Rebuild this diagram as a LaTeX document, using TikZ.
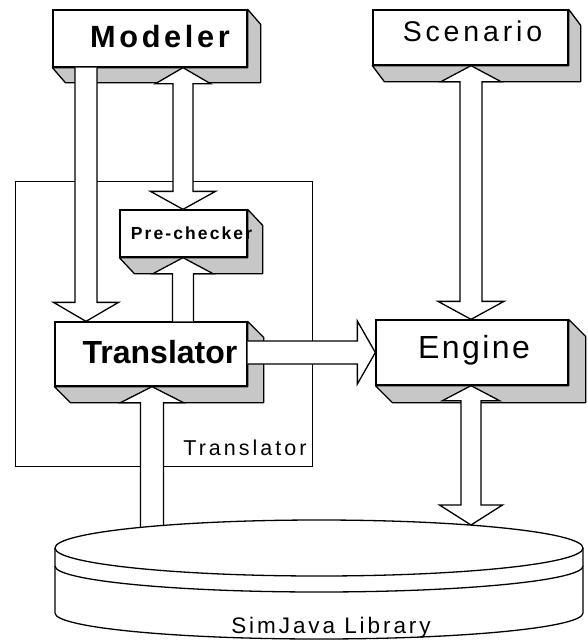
\documentclass[tikz,border=0pt]{standalone}
\usepackage{fontspec}
\setmainfont{Liberation Sans}
\usetikzlibrary{calc}
\tikzset{
  box/.style={draw, fill=white, line width=1.3pt, inner sep=0pt},
  side3d/.style={draw, fill=black!22, line width=1.3pt, line join=round},
  blockarrow/.style={draw, fill=white, line width=1.3pt, line join=miter},
  framebox/.style={draw, line width=1pt, inner sep=0pt, minimum width=297pt, minimum height=285pt},
  lbl/.style={anchor=base, inner sep=0pt},
  cyl/.style={draw, line width=1.3pt},
}
% side faces of a 3-D box: #1 node, #2 dx, #3 dy
\newcommand\sidefaces[3]{%
  \path[side3d] (#1.north east) -- ++(#2,#3) -- ($(#1.south east)+(#2,#3)$)
    -- ($(#1.south west)+(#2,#3)$) -- (#1.south west) -- (#1.south east) -- cycle;}
% block arrow pointing down: #1 tail, #2 tip, #3 shaft hw, #4 head hw, #5 head len
\newcommand\arrDown[5]{%
  \path[blockarrow] let \p1=(#1), \p2=(#2) in
    (\x2-#3,\y1) -- (\x2-#3,\y2+#5) -- (\x2-#4,\y2+#5) -- (\x2,\y2)
    -- (\x2+#4,\y2+#5) -- (\x2+#3,\y2+#5) -- (\x2+#3,\y1);}
% block arrow pointing up: #1 tail (below), #2 tip
\newcommand\arrUp[5]{%
  \path[blockarrow] let \p1=(#1), \p2=(#2) in
    (\x2-#3,\y1) -- (\x2-#3,\y2-#5) -- (\x2-#4,\y2-#5) -- (\x2,\y2)
    -- (\x2+#4,\y2-#5) -- (\x2+#3,\y2-#5) -- (\x2+#3,\y1);}
% double block arrow: #1 top tip, #2 bottom tip, #3 shaft hw,
% #4/#5 top head hw/len, #6/#7 bottom head hw/len
\newcommand\arrBoth[7]{%
  \path[blockarrow] let \p1=(#1), \p2=(#2) in
    (\x1-#3,\y1-#5) -- (\x1-#4,\y1-#5) -- (\x1,\y1) -- (\x1+#4,\y1-#5)
    -- (\x1+#3,\y1-#5) -- (\x1+#3,\y2+#7) -- (\x1+#6,\y2+#7) -- (\x1,\y2)
    -- (\x1-#6,\y2+#7) -- (\x1-#3,\y2+#7) -- cycle;}

\begin{document}
\begin{tikzpicture}[x=1pt,y=-1pt]
\useasboundingbox (0,0) rectangle (588,641);
\coordinate (cA) at (86,0);
\coordinate (cB) at (183,0);
\coordinate (cC) at (152,0);
\coordinate (cD) at (471,0);
\coordinate (libC) at (152,545);
\coordinate (libD) at (471,525);

% translator frame
\node[framebox] (tframe) at (163.5,323.5) {};

% boxes
\node[box, minimum width=194pt, minimum height=57pt] (modeler) at (150,38.5) {};
\node[box, minimum width=195pt, minimum height=55pt] (scenario) at (470.5,37.5) {};
\node[box, minimum width=127pt, minimum height=47pt] (prechecker) at (183.5,233.5) {};
\node[box, minimum width=192pt, minimum height=64pt] (translator) at (151,354) {};
\node[box, minimum width=192pt, minimum height=65pt] (engine) at (472,352.5) {};
\sidefaces{modeler}{13}{15}
\sidefaces{scenario}{12}{16}
\sidefaces{prechecker}{15}{16}
\sidefaces{translator}{16}{16}
\sidefaces{engine}{17}{17}

% arrows
\arrDown{modeler.south -| cA}{translator.north -| cA}{11pt}{32.5pt}{19pt}
\arrBoth{modeler.south -| cB}{prechecker.north -| cB}{10pt}{27.5pt}{16pt}{32.5pt}{18pt}
\arrUp{translator.north -| cB}{prechecker.south -| cB}{10.5pt}{30pt}{16pt}
\arrUp{libC}{translator.south -| cC}{11.5pt}{31.5pt}{16pt}
\arrBoth{scenario.south -| cD}{engine.north -| cD}{11pt}{30pt}{16pt}{33pt}{18pt}
\arrBoth{engine.south -| cD}{libD}{10pt}{28.5pt}{15pt}{31.5pt}{20pt}
\path[blockarrow] let \p1=(translator.east |- engine.west), \p2=(engine.west) in
  (\x1,\y2+11.5pt) -- (\x2-18pt,\y2+11.5pt) -- (\x2-18pt,\y2+31.5pt) -- (\x2,\y2)
  -- (\x2-18pt,\y2-31.5pt) -- (\x2-18pt,\y2-11.5pt) -- (\x1,\y2-11.5pt);

% library cylinder
\path[cyl, fill=white] (55,548) -- (55,613)
  arc[start angle=180, end angle=360, x radius=264pt, y radius=26pt]
  -- (583,548)
  arc[start angle=0, end angle=180, x radius=264pt, y radius=28pt] -- cycle;
\draw[cyl] (55,548) arc[start angle=180, end angle=360, x radius=264pt, y radius=28pt];
\draw[cyl] (55,566) arc[start angle=180, end angle=360, x radius=264pt, y radius=26pt];

% texts
\node[lbl, font=\fontsize{30.7}{36}\selectfont\bfseries\addfontfeature{LetterSpace=12}] (modelerT) at (160,47) {Modeler};
\node[lbl, font=\fontsize{28.5}{34}\selectfont\addfontfeature{LetterSpace=13.5}] (scenarioT) at (472.5,41) {Scenario};
\node[lbl, font=\fontsize{17.5}{21}\selectfont\bfseries\addfontfeature{LetterSpace=12}] (precheckerT) at (191.5,239) {Pre-checker};
\node[lbl, font=\fontsize{32}{38}\selectfont\bfseries] (translatorT) at (160,363) {Translator};
\node[lbl, font=\fontsize{32}{38}\selectfont\addfontfeature{LetterSpace=7.7}] (engineT) at (474,358) {Engine};
\node[lbl, font=\fontsize{21.5}{26}\selectfont\addfontfeature{LetterSpace=14}] (tframeT) at (245,455) {Translator};
\node[lbl, font=\fontsize{22.5}{27}\selectfont\addfontfeature{LetterSpace=13}] (library) at (331,633) {SimJava Library};
\end{tikzpicture}
\end{document}
